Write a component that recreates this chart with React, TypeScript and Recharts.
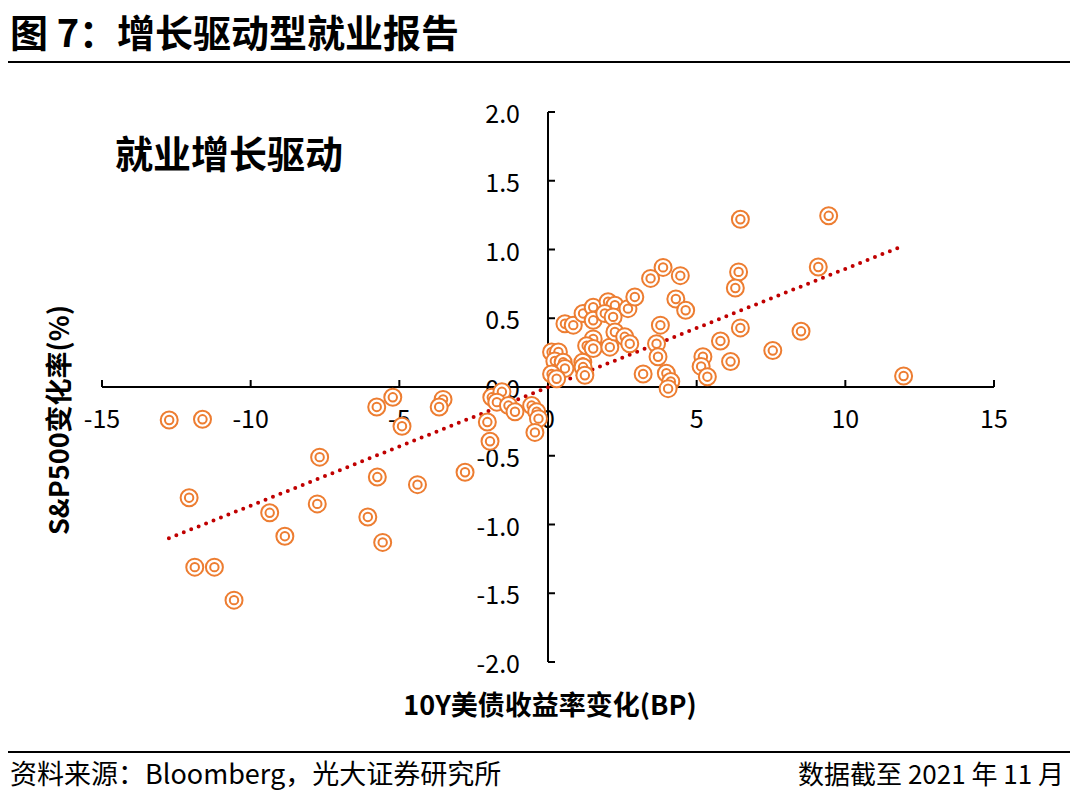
import React from 'react'
import { ScatterChart, Scatter, XAxis, YAxis, ReferenceLine, ReferenceDot } from 'recharts'

// 10Y UST yield change (bp) vs S&P500 change (%) on strong payroll days
const xValues = [
  -12.74, -11.62, -12.07, -11.88, -11.22, -10.56, -9.36, -8.85, -7.68, -7.76, -6.06, -5.56, -5.74, -5.76,
  -5.22, -4.91, -4.39, -3.53, -3.66, -2.79, -2.04, -1.95, -1.89, -1.55, -1.72, -1.33, -1.11, -0.55, -0.38,
  -0.32, -0.44,
  0.12, 0.35, 0.23, 0.51, 0.57, 0.12, 0.29, 1.17, 1.18, 1.24, 0.57, 0.85, 1.18, 1.52, 1.52, 2.02, 2.25, 1.91,
  2.19, 2.69, 2.92, 1.52, 1.3, 1.52, 2.08, 2.25, 2.58, 2.75, 3.2, 3.65, 3.7, 3.78, 3.98, 4.13, 4.04, 4.3,
  4.63, 5.21, 5.15, 5.36, 6.47, 9.44, 3.87, 3.45, 4.45, 6.41, 6.3, 9.09, 6.47, 8.51, 5.8, 7.56, 6.14, 11.96,
]
const yValues = [
  -0.24, -0.235, -0.805, -1.31, -1.31, -1.55, -0.915, -1.085, -0.51, -0.85, -0.945, -1.13, -0.655, -0.145,
  -0.075, -0.285, -0.71, -0.09, -0.145, -0.62, -0.255, -0.395, -0.075, -0.035, -0.11, -0.135, -0.18, -0.135,
  -0.18, -0.23, -0.33,
  0.255, 0.255, 0.19, 0.18, 0.135, 0.095, 0.06, 0.18, 0.145, 0.085, 0.46, 0.45, 0.535, 0.58, 0.485, 0.62,
  0.595, 0.535, 0.51, 0.57, 0.655, 0.35, 0.3, 0.28, 0.29, 0.4, 0.365, 0.315, 0.095, 0.315, 0.22, 0.45, 0.1,
  0.04, -0.012, 0.64, 0.558, 0.22, 0.15, 0.075, 1.22, 1.245, 0.87, 0.79, 0.81, 0.837, 0.72, 0.873, 0.43,
  0.405, 0.335, 0.265, 0.185, 0.08,
]
const trendLine = [
  { x: -12.75, y: -1.1 },
  { x: 11.75, y: 1.01 },
]
const xTicks = [-15, -10, -5, 0, 5, 10, 15]
const yTicks = [2.0, 1.5, 1.0, 0.5, 0.0, -0.5, -1.0, -1.5, -2.0]

const points = xValues.map((x, i) => ({ x, y: yValues[i] }))

const FONT = '"Noto Sans CJK SC", "Noto Sans", sans-serif'
const ORANGE = '#ED7D31'

const Ring = (props: any) => {
  const { cx, cy } = props
  if (cx == null || cy == null) return null
  return (
    <g>
      <circle cx={cx} cy={cy} r={8.5} fill="#fff" stroke={ORANGE} strokeWidth={2} />
      <circle cx={cx} cy={cy} r={4.2} fill="#fff" stroke={ORANGE} strokeWidth={2} />
    </g>
  )
}

const xTickShape = (v: number) => (props: any) => {
  const { cx, cy } = props
  return (
    <g>
      {v !== 0 && <line x1={cx} y1={cy} x2={cx} y2={cy - 7} stroke="#000" strokeWidth={2} />}
      <text x={cx} y={cy + 30} textAnchor="middle" dominantBaseline="central" fontSize={25} fontFamily={FONT} fill="#000">
        {String(v)}
      </text>
    </g>
  )
}

const yTickShape = (v: number) => (props: any) => {
  const { cx, cy } = props
  return (
    <g>
      {v !== 0 && <line x1={cx} y1={cy} x2={cx + 7} y2={cy} stroke="#000" strokeWidth={2} />}
      <text x={cx - 28} y={cy} textAnchor="end" dominantBaseline="central" fontSize={25} fontFamily={FONT} fill="#000">
        {v.toFixed(1)}
      </text>
    </g>
  )
}

export default function App() {
  return (
    <div style={{ position: 'absolute', left: 0, top: 0, width: 1080, height: 794, background: '#fff', fontFamily: FONT, color: '#000' }}>
      <div style={{ position: 'absolute', left: 10, top: 3, fontSize: 38, fontWeight: 700, whiteSpace: 'nowrap' }}>
        图 7：增长驱动型就业报告
      </div>
      <div style={{ position: 'absolute', left: 8, top: 61, width: 1062, height: 2, background: '#000' }} />

      <ScatterChart width={1080} height={794} margin={{ top: 112, right: 86, bottom: 132, left: 102 }} style={{ position: 'absolute', left: 0, top: 0 }}>
        <XAxis type="number" dataKey="x" domain={[-15, 15]} hide />
        <YAxis type="number" dataKey="y" domain={[-2, 2]} hide />
        <ReferenceLine y={0} stroke="#000" strokeWidth={2} />
        <ReferenceLine x={0} stroke="#000" strokeWidth={2} />
        {xTicks.map((v) => (
          <ReferenceDot key={'x' + v} x={v} y={0} r={0} ifOverflow="visible" shape={xTickShape(v)} />
        ))}
        {yTicks.map((v) => (
          <ReferenceDot key={'y' + v} x={0} y={v} r={0} ifOverflow="visible" shape={yTickShape(v)} />
        ))}
        <Scatter data={points} shape={Ring} isAnimationActive={false} />
        <ReferenceLine
          segment={trendLine}
          stroke="#C00000"
          strokeWidth={4}
          strokeDasharray="0 8"
          strokeLinecap="round"
          ifOverflow="visible"
        />
      </ScatterChart>

      <div style={{ position: 'absolute', left: 115, top: 124, fontSize: 38, fontWeight: 700, whiteSpace: 'nowrap' }}>
        就业增长驱动
      </div>
      <div
        style={{
          position: 'absolute',
          left: 57,
          top: 420,
          transform: 'translate(-50%, -50%) rotate(-90deg)',
          fontSize: 27,
          fontWeight: 700,
          whiteSpace: 'nowrap',
        }}
      >
        S&amp;P500变化率(%)
      </div>
      <div
        style={{
          position: 'absolute',
          left: 550,
          top: 703,
          transform: 'translate(-50%, -50%)',
          fontSize: 27,
          fontWeight: 700,
          whiteSpace: 'nowrap',
        }}
      >
        10Y美债收益率变化(BP)
      </div>

      <div style={{ position: 'absolute', left: 8, top: 751, width: 1062, height: 2, background: '#000' }} />
      <div style={{ position: 'absolute', left: 10, top: 753, fontSize: 27, whiteSpace: 'nowrap' }}>
        资料来源：Bloomberg，光大证券研究所
      </div>
      <div style={{ position: 'absolute', right: 16, top: 754, fontSize: 26, whiteSpace: 'nowrap' }}>
        数据截至 2021 年 11 月
      </div>
    </div>
  )
}
